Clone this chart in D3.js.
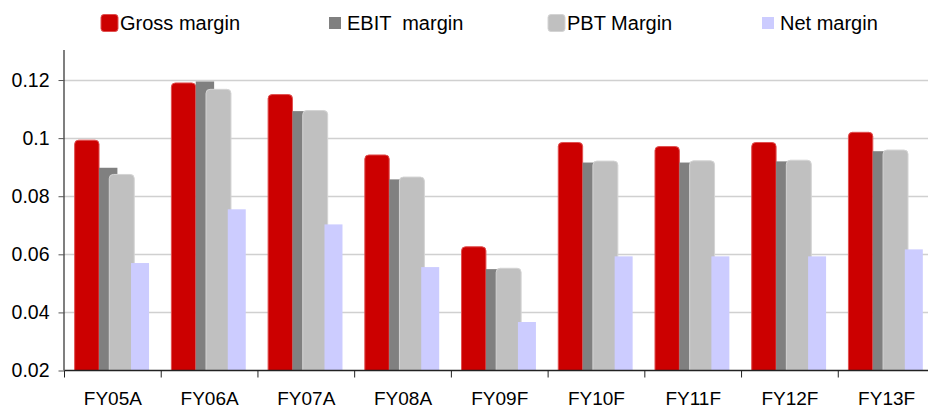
<!DOCTYPE html>
<html>
<head>
<meta charset="utf-8">
<script src="https://cdn.jsdelivr.net/npm/d3@7"></script>
<style>
  html, body { margin: 0; padding: 0; background: #fff; }
  svg { display: block; font-family: "Liberation Sans", Arial, sans-serif; }
</style>
</head>
<body>
<svg id="chart" width="928" height="408"></svg>
<script>
// Fiscal years on the category axis
const years = ["FY05A", "FY06A", "FY07A", "FY08A", "FY09F", "FY10F", "FY11F", "FY12F", "FY13F"];

// Margin series, one value per fiscal year
const grossMargin = [0.0993, 0.1190, 0.1150, 0.0942, 0.0626, 0.0985, 0.0971, 0.0985, 0.1020];
const ebitMargin  = [0.0898, 0.1195, 0.1093, 0.0858, 0.0549, 0.0916, 0.0916, 0.0920, 0.0955];
const pbtMargin   = [0.0875, 0.1168, 0.1095, 0.0866, 0.0552, 0.0921, 0.0922, 0.0924, 0.0959];
const netMargin   = [0.0570, 0.0755, 0.0703, 0.0556, 0.0367, 0.0593, 0.0593, 0.0593, 0.0617];

const seriesNames = ["Gross margin", "EBIT  margin", "PBT Margin", "Net margin"];
const yTicks = [0.02, 0.04, 0.06, 0.08, 0.1, 0.12];

const series = [
  { name: seriesNames[0], values: grossMargin, color: "#cc0000", edge: "#e05050", rounded: true,  off: 0.105, w: 0.252 },
  { name: seriesNames[1], values: ebitMargin,  color: "#808080", edge: null,      rounded: false, off: 0.357, w: 0.190 },
  { name: seriesNames[2], values: pbtMargin,   color: "#c0c0c0", edge: "#d4d4d4", rounded: true,  off: 0.463, w: 0.258 },
  { name: seriesNames[3], values: netMargin,   color: "#ccccff", edge: null,      rounded: false, off: 0.688, w: 0.186 }
];

const svg = d3.select("#chart");
const plotLeft = 64.5, plotRight = 935, plotTop = 50, plotBottom = 370.5;

const x = d3.scaleBand().domain(years).range([plotLeft, plotRight]).padding(0);
const y = d3.scaleLinear().domain([0.02, 0.13]).range([plotBottom, plotTop + 1]);

// Horizontal gridlines
svg.append("g")
  .selectAll("line")
  .data(yTicks.slice(1))
  .join("line")
  .attr("x1", plotLeft).attr("x2", 928)
  .attr("y1", d => Math.round(y(d)) + 0.5).attr("y2", d => Math.round(y(d)) + 0.5)
  .attr("stroke", "#d0d0d0").attr("stroke-width", 1.5);

// Bar with rounded top corners only
function topRounded(x0, y0, w, h, r) {
  r = Math.min(r, w / 2, h);
  return `M${x0},${y0 + h}V${y0 + r}Q${x0},${y0} ${x0 + r},${y0}H${x0 + w - r}Q${x0 + w},${y0} ${x0 + w},${y0 + r}V${y0 + h}Z`;
}

const bw = x.bandwidth();
series.forEach(s => {
  const g = svg.append("g");
  s.values.forEach((v, i) => {
    const x0 = x(years[i]) + s.off * bw;
    const w = s.w * bw;
    const y0 = y(v);
    const h = plotBottom - y0;
    if (s.rounded) {
      g.append("path")
        .attr("d", topRounded(x0, y0, w, h, 4))
        .attr("fill", s.color)
        .attr("stroke", s.edge).attr("stroke-width", 1);
    } else {
      g.append("rect")
        .attr("x", x0).attr("y", y0).attr("width", w).attr("height", h)
        .attr("fill", s.color);
    }
  });
});

// Y axis
const yAxis = d3.axisLeft(y).tickValues(yTicks).tickSize(6).tickPadding(9)
  .tickFormat(d => String(+d.toFixed(2)));
const ya = svg.append("g").attr("transform", `translate(${plotLeft},0)`).call(yAxis);
ya.select(".domain").attr("d", `M-0.5,${plotTop}V${plotBottom}`).attr("stroke", "#555").attr("stroke-width", 1.5);
ya.selectAll(".tick line").attr("stroke", "#555");
ya.selectAll("text").attr("font-size", 19.5).attr("fill", "#000")
  .attr("font-family", "'Liberation Sans', Arial, sans-serif");

// X axis: ticks at category boundaries
const xa = svg.append("g").attr("transform", `translate(0,${plotBottom})`);
xa.append("line").attr("x1", plotLeft).attr("x2", 928).attr("y1", 0).attr("y2", 0)
  .attr("stroke", "#222").attr("stroke-width", 1.5);
xa.selectAll("line.tk")
  .data(years)
  .join("line").attr("class", "tk")
  .attr("x1", d => x(d)).attr("x2", d => x(d))
  .attr("y1", 0).attr("y2", 7)
  .attr("stroke", "#222");
xa.selectAll("text")
  .data(years)
  .join("text")
  .attr("x", d => x(d) + bw / 2)
  .attr("y", 34.5)
  .attr("text-anchor", "middle")
  .attr("font-size", 19)
  .attr("fill", "#000")
  .text(d => d);

// Legend
const legendX = [101, 329, 548, 762];
const legend = svg.append("g");
series.forEach((s, i) => {
  const lg = legend.append("g").attr("transform", `translate(${legendX[i]},0)`);
  if (s.rounded) {
    lg.append("rect").attr("x", 0).attr("y", 14.5).attr("width", 17).attr("height", 17)
      .attr("rx", 3).attr("fill", s.color).attr("stroke", s.edge).attr("stroke-width", 1);
  } else {
    lg.append("rect").attr("x", 0).attr("y", 17).attr("width", 12).attr("height", 12)
      .attr("fill", s.color);
  }
  lg.append("text")
    .attr("x", s.rounded ? 19 : 18)
    .attr("y", 30)
    .attr("font-size", 20)
    .attr("fill", "#000")
    .attr("xml:space", "preserve")
    .style("white-space", "pre")
    .text(s.name);
});
</script>
</body>
</html>
